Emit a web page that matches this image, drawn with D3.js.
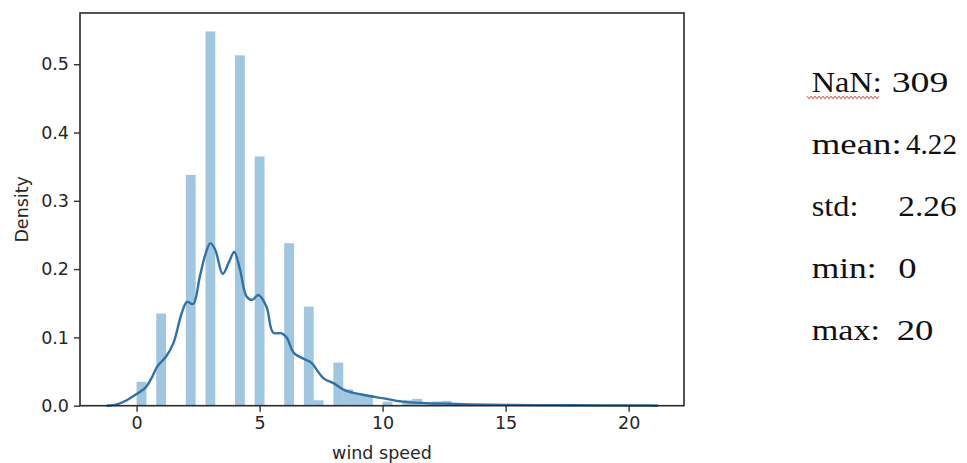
<!DOCTYPE html>
<html>
<head>
<meta charset="utf-8">
<script src="https://cdn.jsdelivr.net/npm/d3@7"></script>
<style>
  html, body { margin: 0; padding: 0; background: #ffffff; }
  svg { display: block; }
</style>
</head>
<body>
<svg id="chart" width="967" height="463"></svg>
<script>
// ---- data ----
const binWidth = 0.4;
const binStarts   = [0.0, 0.8, 2.0, 2.8, 4.0, 4.8, 6.0, 6.8, 7.2, 8.0, 8.4, 8.8, 9.2, 10.0, 10.8, 11.2, 12.0, 12.4, 13.2, 14.0, 15.2, 16.0, 18.0, 20.0];
const binDensities = [0.035, 0.135, 0.338, 0.548, 0.513, 0.365, 0.238, 0.145, 0.008, 0.063, 0.024, 0.018, 0.015, 0.006, 0.008, 0.010, 0.006, 0.007, 0.003, 0.002, 0.002, 0.001, 0.001, 0.001];

const kdeX = [-1.22, -0.8, -0.4, 0, 0.35, 0.6, 0.85, 1.2, 1.5, 1.83, 2.05, 2.3, 2.57, 2.8, 3.0, 3.2, 3.5, 3.75, 3.97, 4.2, 4.47, 4.7, 4.95, 5.28, 5.55, 5.9, 6.1, 6.4, 6.9, 7.1, 7.6, 8.0, 8.5, 9.2, 10.0, 10.8, 11.6, 12.5, 13.5, 15, 17, 19, 20.5, 21.2];
const kdeY = [0, 0.002, 0.008, 0.017, 0.026, 0.04, 0.058, 0.072, 0.092, 0.135, 0.152, 0.149, 0.189, 0.222, 0.238, 0.228, 0.193, 0.21, 0.225, 0.2, 0.16, 0.155, 0.162, 0.145, 0.107, 0.106, 0.1, 0.077, 0.067, 0.063, 0.04, 0.033, 0.022, 0.016, 0.011, 0.006, 0.004, 0.003, 0.002, 0.0012, 0.0008, 0.0005, 0.0003, 0];

const xTicks = [0, 5, 10, 15, 20];
const yTicks = [0.0, 0.1, 0.2, 0.3, 0.4, 0.5];
const xLabel = "wind speed";
const yLabel = "Density";

const statLabels = ["NaN:", "mean:", "std:", "min:", "max:"];
const statValues = ["309", "4.22", "2.26", "0", "20"];

// ---- layout ----
const plot = { left: 80, right: 684, top: 13, bottom: 405.7 };
const svg = d3.select("#chart");

const x = d3.scaleLinear().domain([-2.3, 22.25]).range([plot.left, plot.right]);
const y = d3.scaleLinear().domain([0, 0.575]).range([plot.bottom, plot.top]);

const tickFont = "'DejaVu Sans', sans-serif";
const textColor = "#262626";

// bars
svg.append("g").selectAll("rect")
  .data(binStarts.map((s, i) => ({ s, d: binDensities[i] })))
  .join("rect")
  .attr("x", d => x(d.s))
  .attr("width", d => x(d.s + binWidth) - x(d.s))
  .attr("y", d => y(d.d))
  .attr("height", d => y(0) - y(d.d))
  .attr("fill", "#1f77b4")
  .attr("fill-opacity", 0.42);

// kde
const line = d3.line()
  .x(d => x(d[0]))
  .y(d => y(d[1]))
  .curve(d3.curveCatmullRom.alpha(0.5));
svg.append("path")
  .datum(kdeX.map((v, i) => [v, kdeY[i]]))
  .attr("d", line)
  .attr("fill", "none")
  .attr("stroke", "#2f72a8")
  .attr("stroke-width", 2.4)
  .attr("stroke-linejoin", "round");

// axes
const xAxis = d3.axisBottom(x).tickValues(xTicks).tickFormat(d3.format("d")).tickSize(6).tickPadding(5);
const yAxis = d3.axisLeft(y).tickValues(yTicks).tickFormat(d3.format(".1f")).tickSize(6).tickPadding(5);

const gx = svg.append("g").attr("transform", `translate(0,${plot.bottom})`).call(xAxis);
const gy = svg.append("g").attr("transform", `translate(${plot.left},0)`).call(yAxis);
[gx, gy].forEach(g => {
  g.select(".domain").remove();
  g.selectAll(".tick line").attr("stroke", "#333").attr("stroke-width", 1.4);
  g.selectAll(".tick text").attr("font-family", tickFont).attr("font-size", 17.5).attr("fill", textColor);
});

// frame
svg.append("rect")
  .attr("x", plot.left).attr("y", plot.top)
  .attr("width", plot.right - plot.left).attr("height", plot.bottom - plot.top)
  .attr("fill", "none").attr("stroke", "#2a2a2a").attr("stroke-width", 1.6);

// axis labels
svg.append("text")
  .attr("x", (plot.left + plot.right) / 2).attr("y", 459)
  .attr("text-anchor", "middle")
  .attr("font-family", tickFont).attr("font-size", 17.5).attr("fill", textColor)
  .text(xLabel);
svg.append("text")
  .attr("transform", `translate(28,${(plot.top + plot.bottom) / 2}) rotate(-90)`)
  .attr("text-anchor", "middle")
  .attr("font-family", tickFont).attr("font-size", 17.5).attr("fill", textColor)
  .text(yLabel);

// stats text (wide serif rendering, matched via textLength)
const statX = 811.7;
const labelLen = [70, 90, 46.7, 65, 68.3];
const valueX = [891.7, 906, 898.3, 898.3, 896.7];
const valueLen = [56.7, 51, 58.3, 18.3, 36.7];
const baseY = 91.7, stepY = 62.1;
const serif = "'Liberation Serif', 'Times New Roman', serif";
statLabels.forEach((lab, i) => {
  const yy = baseY + i * stepY;
  svg.append("text")
    .attr("x", statX).attr("y", yy)
    .attr("font-family", serif).attr("font-size", 28.5).attr("fill", "#111")
    .attr("textLength", labelLen[i]).attr("lengthAdjust", "spacingAndGlyphs")
    .text(lab);
  svg.append("text")
    .attr("x", valueX[i]).attr("y", yy)
    .attr("font-family", serif).attr("font-size", 28.5).attr("fill", "#111")
    .attr("textLength", valueLen[i]).attr("lengthAdjust", "spacingAndGlyphs")
    .text(statValues[i]);
});

// red spell-check squiggle under "NaN"
const sq = d3.range(0, 73, 2).map((dx, i) => [807 + dx, 97.5 + (i % 2 === 0 ? -1.3 : 1.3)]);
svg.append("path")
  .attr("d", d3.line()(sq))
  .attr("fill", "none").attr("stroke", "#d9403a").attr("stroke-width", 1);
</script>
</body>
</html>
